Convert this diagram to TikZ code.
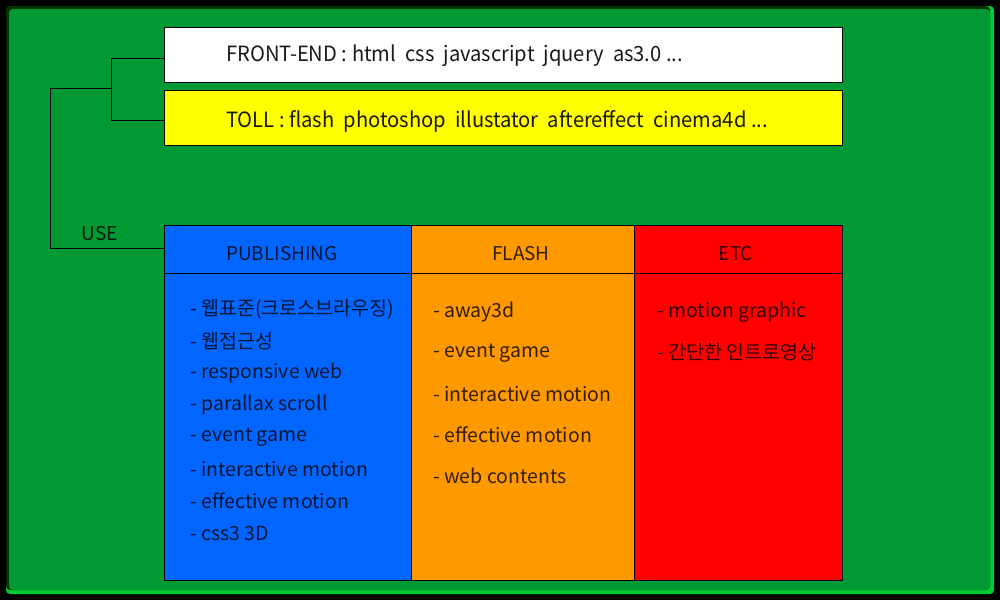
\documentclass[tikz,border=0pt]{standalone}
\usepackage{fontspec}
\setmainfont{Noto Sans CJK KR}
\newfontfamily\narrowfont[FakeStretch=0.96]{Noto Sans CJK KR}
\usetikzlibrary{calc}
\definecolor{bggreen}{HTML}{009933}
\definecolor{darkedge}{HTML}{003300}
\definecolor{lightedge}{HTML}{00CC33}
\definecolor{pubblue}{HTML}{0066FF}
\definecolor{flashorange}{HTML}{FF9900}
\definecolor{etcred}{HTML}{FF0000}
\definecolor{tollyellow}{HTML}{FFFF00}
\tikzset{
  box/.style={draw=black, line width=1pt, inner sep=0pt, anchor=north west},
  toptext/.style={font=\narrowfont\fontsize{21}{24}\selectfont, anchor=west, inner sep=0pt, text opacity=0.9},
  headtext/.style={font=\fontsize{19}{22}\selectfont, inner sep=0pt, text opacity=0.8},
  itemtext/.style={font=\fontsize{19.5}{22}\selectfont, anchor=west, inner sep=0pt, text opacity=0.8},
  wire/.style={draw=black, line width=1pt}
}
\begin{document}
\begin{tikzpicture}[x=1pt,y=-1pt]
\useasboundingbox (0,0) rectangle (1000,600);
\fill[black] (0,0) rectangle (1000,600);
\fill[lightedge, rounded corners=4pt] (6,6) rectangle (994,594);
\fill[darkedge, rounded corners=4pt] (6,6) rectangle (990,590);
\fill[bggreen, rounded corners=4pt] (9,9) rectangle (990,590);
% top boxes
\node[box, fill=white, minimum width=678pt, minimum height=55pt] (front) at (164,27) {};
\node[box, fill=tollyellow, minimum width=678pt, minimum height=55pt] (toll) at (164,90) {};
\node[toptext] (fronttxt) at (226,56) {FRONT-END : html\ \ css\ \ javascript\ \ jquery\ \ as3.0 ...};
\node[toptext] (tolltxt) at (226,121) {TOLL : flash\ \ photoshop\ \ illustator\ \ aftereffect\ \ cinema4d ...};
% table
\node[box, fill=pubblue, minimum width=247pt, minimum height=48pt] (pubhead) at (164,225) {};
\node[box, fill=flashorange, minimum width=223pt, minimum height=48pt] (flashhead) at (411,225) {};
\node[box, fill=etcred, minimum width=208pt, minimum height=48pt] (etchead) at (634,225) {};
\node[box, fill=pubblue, minimum width=247pt, minimum height=307pt] (pubbody) at (164,273) {};
\node[box, fill=flashorange, minimum width=223pt, minimum height=307pt] (flashbody) at (411,273) {};
\node[box, fill=etcred, minimum width=208pt, minimum height=307pt] (etcbody) at (634,273) {};
\node[headtext] (pubtitle) at (282,254) {PUBLISHING};
\node[headtext] (flashtitle) at (521,254) {FLASH};
\node[headtext] (etctitle) at (736,254) {ETC};
% publishing items
\node[itemtext] (p1) at (190,309) {- 웹표준(크로스브라우징)};
\node[itemtext] (p2) at (190,341) {- 웹접근성};
\node[itemtext] (p3) at (190,373) {- responsive web};
\node[itemtext] (p4) at (190,405) {- parallax scroll};
\node[itemtext] (p5) at (190,437) {- event game};
\node[itemtext] (p6) at (190,469) {- interactive motion};
\node[itemtext] (p7) at (190,501) {- effective motion};
\node[itemtext] (p8) at (190,533) {- css3 3D};
% flash items
\node[itemtext] (f1) at (433,312) {- away3d};
\node[itemtext] (f2) at (433,353) {- event game};
\node[itemtext] (f3) at (433,394) {- interactive motion};
\node[itemtext] (f4) at (433,435) {- effective motion};
\node[itemtext] (f5) at (433,476) {- web contents};
% etc items
\node[itemtext] (e1) at (657,312) {- motion graphic};
\node[itemtext] (e2) at (657,352) {- 간단한 인트로영상};
% tree connectors
\coordinate (jtop) at (111,58);
\coordinate (jbot) at (111,120);
\coordinate (jmid) at (111,88);
\coordinate (juse) at (50,88);
\coordinate (jcorner) at (50,248);
\draw[wire] (front.west |- jtop) -- (jtop) -- (jbot) -- (toll.west |- jbot);
\draw[wire] (jmid) -- (juse) -- (jcorner) -- (pubhead.west |- jcorner);
\node[headtext] (use) at (100,234) {USE};
\end{tikzpicture}
\end{document}
